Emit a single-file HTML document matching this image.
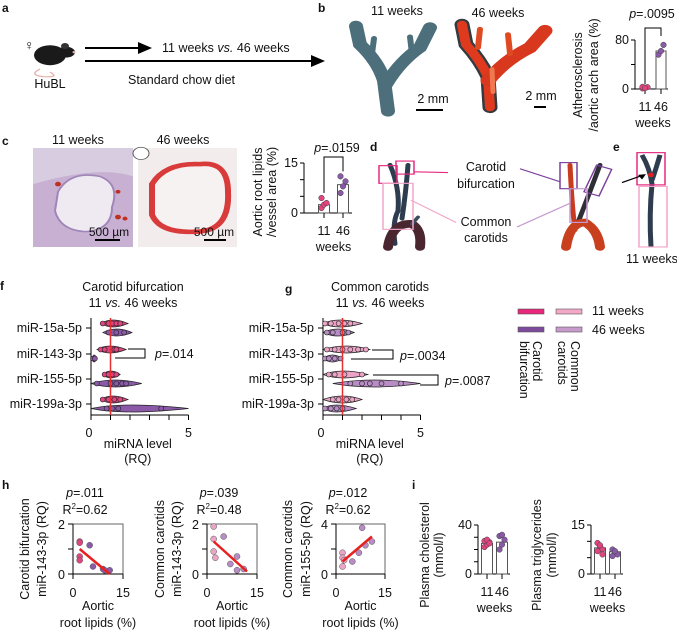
<!DOCTYPE html>
<html><head><meta charset="utf-8"><style>
html,body{margin:0;padding:0;background:#fff}
svg{display:block;font-family:"Liberation Sans",Arial,sans-serif}
text{fill:#111}
</style></head><body>
<svg id="fig" width="677" height="635" viewBox="0 0 677 635" xmlns="http://www.w3.org/2000/svg">
<!-- image-like shapes drawn in a vertically compressed frame -->
<g transform="matrix(1 0 0 0.767 0 0)">
<g>
<path d="M40 90 Q28 98 44 100 Q60 101 50 94" fill="none" stroke="#e8b0a8" stroke-width="1.5"/>
<ellipse cx="50" cy="72" rx="16" ry="13" fill="#1a1a1a"/>
<ellipse cx="66" cy="68" rx="9" ry="7" fill="#1a1a1a"/>
<circle cx="65" cy="60" r="4" fill="#333"/>
<circle cx="74" cy="68" r="1.5" fill="#e8b0a8"/>
</g>
<g fill="none" stroke="#4c6f7b" stroke-linecap="round">
<path d="M388 145 L384 105 Q378 80 360 58 L356 34" stroke-width="14"/>
<path d="M386 110 Q400 80 420 62 L430 36" stroke-width="14"/>
<path d="M372 70 L374 50" stroke-width="6"/>
<path d="M412 70 L410 48" stroke-width="6"/>
</g>
<g fill="none" stroke-linecap="round">
<path d="M490 140 L488 100 Q480 78 466 58 L462 32" stroke="#333b40" stroke-width="15"/>
<path d="M490 140 L488 100 Q480 78 466 58 L462 32" stroke="#e03a1e" stroke-width="10"/>
<path d="M488 105 Q505 78 530 62 L545 40" stroke="#d8381d" stroke-width="15"/>
<path d="M478 62 L480 38" stroke="#e04a22" stroke-width="6"/>
<path d="M510 70 L508 45" stroke="#e04a22" stroke-width="6"/>
<path d="M493 120 L492 90" stroke="#f07850" stroke-width="5"/>
</g>
<g>
<rect x="33" y="193" width="100" height="129" fill="#c7b0d2"/>
<path d="M33 193 L133 193 L133 230 Q100 215 33 240 Z" fill="#d8cce0"/>
<path d="M58 250 Q70 222 100 230 Q120 240 112 270 Q112 300 85 302 Q60 300 55 275 Z" fill="#efeaf2" stroke="#9f86b8" stroke-width="2"/>
<circle cx="58" cy="240" r="3" fill="#c03020"/><circle cx="118" cy="250" r="2.5" fill="#c03020"/><circle cx="118" cy="283" r="3" fill="#c03020"/><circle cx="125" cy="285" r="2.5" fill="#c03020"/>
</g>
<g>
<rect x="138" y="193" width="99" height="129" fill="#f2ecec"/>
<path d="M152 240 Q165 212 200 214 Q228 210 228 250 Q230 300 198 302 Q160 305 152 280 Z" fill="#f7f2f2" stroke="#d93a3a" stroke-width="6"/>
<circle cx="141" cy="200" r="8" fill="#fff" stroke="#555" stroke-width="1"/>
</g>
<g fill="none" stroke-linecap="round">
<path d="M395 318 Q392 290 398 275 Q400 245 390 215" stroke="#2e3c4f" stroke-width="5"/>
<path d="M402 285 Q406 250 408 215" stroke="#2e3c4f" stroke-width="5"/>
<path d="M388 322 Q392 290 412 292 Q422 300 420 322" stroke="#4a2730" stroke-width="10"/>
<path d="M412 292 L418 283" stroke="#3c4e5e" stroke-width="4"/>
</g>
<rect x="379" y="216" width="18" height="23" fill="none" stroke="#e62a82" stroke-width="1.5"/>
<rect x="396" y="210" width="18" height="17" fill="none" stroke="#e62a82" stroke-width="1.5"/>
<rect x="383" y="239" width="30" height="60" fill="none" stroke="#f2a6c8" stroke-width="1.5"/>
<line x1="448" y1="225" x2="414" y2="224" stroke="#e62a82" stroke-width="1.5"/>
<line x1="456" y1="290" x2="411" y2="261" stroke="#f2a6c8" stroke-width="1.5"/>
<line x1="520" y1="220" x2="560" y2="237" stroke="#7b3f9b" stroke-width="1.5"/>
<line x1="517" y1="296" x2="570" y2="265" stroke="#c59ad0" stroke-width="1.5"/>
<g fill="none" stroke-linecap="round">
<path d="M575 300 Q572 270 570 215" stroke="#c83b1e" stroke-width="5"/>
<path d="M578 290 Q590 250 600 215" stroke="#2e2e36" stroke-width="5"/>
<path d="M566 322 Q570 290 585 290 Q598 300 600 322" stroke="#c8401e" stroke-width="10"/>
</g>
<rect x="560" y="212" width="17" height="34" fill="none" stroke="#7b3f9b" stroke-width="1.5"/>
<rect x="590" y="217" width="16" height="37" fill="none" stroke="#7b3f9b" stroke-width="1.5" transform="rotate(20 598 235)"/>
<rect x="570" y="246" width="17" height="44" fill="none" stroke="#c59ad0" stroke-width="1.5"/>
<path d="M651 322 Q649 280 652 240 Q650 220 642 202 M652 235 Q656 220 660 202" fill="none" stroke="#2e3c4f" stroke-width="5"/>
<circle cx="651" cy="228" r="3" fill="#e02020"/>
<rect x="637" y="199" width="28" height="42" fill="none" stroke="#e62a82" stroke-width="1.5"/>
<rect x="639" y="243" width="28" height="79" fill="none" stroke="#f2a6c8" stroke-width="1.5"/>
<line x1="622" y1="238" x2="644" y2="228" stroke="#000" stroke-width="1.5"/>
<polygon points="646,227 638,228 642,234" fill="#000"/>
</g>
<!-- Panel a -->
<g>
<text x="2" y="12" font-size="12" font-weight="bold">a</text>
<text x="24" y="50" font-size="14">♀</text>
<text x="50" y="88" font-size="12.5" text-anchor="middle">HuBL</text>
<line x1="85" y1="48" x2="143" y2="48" stroke="#000" stroke-width="2"/>
<polygon points="152,48 138,42 138,54" fill="#000"/>
<text x="162" y="52" font-size="12.5">11 weeks <tspan font-style="italic">vs.</tspan> 46 weeks</text>
<line x1="85" y1="61" x2="316" y2="61" stroke="#000" stroke-width="2"/>
<polygon points="325,61 311,55 311,67" fill="#000"/>
<text x="128" y="84" font-size="12.5">Standard chow diet</text>
</g>
<!-- Panel b -->
<g>
<text x="318" y="12" font-size="12" font-weight="bold">b</text>
<text x="397" y="15" font-size="12.5" text-anchor="middle">11 weeks</text>
<text x="498" y="17" font-size="12.5" text-anchor="middle">46 weeks</text>
<text x="433" y="103" font-size="12.5" text-anchor="middle">2 mm</text>
<line x1="416" y1="110" x2="443" y2="110" stroke="#000" stroke-width="2"/>
<text x="541" y="100" font-size="12.5" text-anchor="middle">2 mm</text>
<line x1="534" y1="107" x2="546" y2="107" stroke="#000" stroke-width="2"/>
<g id="barB"></g>
</g>
<!-- Panel c -->
<g>
<text x="2" y="145" font-size="12" font-weight="bold">c</text>
<text x="78" y="144" font-size="12.5" text-anchor="middle">11 weeks</text>
<text x="183" y="144" font-size="12.5" text-anchor="middle">46 weeks</text>
<text x="109" y="236" font-size="12" text-anchor="middle">500 µm</text>
<line x1="95" y1="240" x2="120" y2="240" stroke="#000" stroke-width="2"/>
<text x="214" y="236" font-size="12" text-anchor="middle">500 µm</text>
<line x1="204" y1="240" x2="226" y2="240" stroke="#000" stroke-width="2"/>
<g id="barC"></g>
</g>
<!-- Panel d -->
<g>
<text x="370" y="151" font-size="12" font-weight="bold">d</text>
<text x="486" y="171" font-size="12.5" text-anchor="middle">Carotid</text>
<text x="486" y="188" font-size="12.5" text-anchor="middle">bifurcation</text>
<text x="486" y="226" font-size="12.5" text-anchor="middle">Common</text>
<text x="486" y="242" font-size="12.5" text-anchor="middle">carotids</text>
</g>
<!-- Panel e -->
<g>
<text x="613" y="151" font-size="12" font-weight="bold">e</text>
<text x="652" y="263" font-size="12.5" text-anchor="middle">11 weeks</text>
</g>
<!-- Panels f/g -->
<text x="0" y="290" font-size="12" font-weight="bold">f</text>
<text x="133" y="291" font-size="12.5" text-anchor="middle">Carotid bifurcation</text>
<text x="133" y="307" font-size="12.5" text-anchor="middle">11 <tspan font-style="italic">vs.</tspan> 46 weeks</text>
<text x="285" y="293" font-size="12" font-weight="bold">g</text>
<text x="380" y="291" font-size="12.5" text-anchor="middle">Common carotids</text>
<text x="380" y="307" font-size="12.5" text-anchor="middle">11 <tspan font-style="italic">vs.</tspan> 46 weeks</text>
<g id="violinF"></g>
<g id="violinG"></g>
<g>
<rect x="518" y="309" width="26" height="5" fill="#e8267a" stroke="#555" stroke-width="0.6"/>
<rect x="556" y="309" width="26" height="5" fill="#f4a8c8" stroke="#555" stroke-width="0.6"/>
<rect x="518" y="327" width="26" height="5" fill="#7e4a9e" stroke="#555" stroke-width="0.6"/>
<rect x="556" y="327" width="26" height="5" fill="#c79acb" stroke="#555" stroke-width="0.6"/>
<text x="592" y="315" font-size="12.5">11 weeks</text>
<text x="592" y="334" font-size="12.5">46 weeks</text>
<text transform="translate(533,341) rotate(90)" font-size="12.5">Carotid</text>
<text transform="translate(520,341) rotate(90)" font-size="12.5">bifurcation</text>
<text transform="translate(571,341) rotate(90)" font-size="12.5">Common</text>
<text transform="translate(558,341) rotate(90)" font-size="12.5">carotids</text>
</g>
<!-- Panel h -->
<text x="2" y="489" font-size="12" font-weight="bold">h</text>
<g id="scatterH"></g>
<!-- Panel i -->
<text x="412" y="489" font-size="12" font-weight="bold">i</text>
<g id="barI"></g>
</svg>
<script>
// ---- data ----
const barBCategories = ["11", "46"];
const barBMeans = [2, 62];
const barBPoints11 = [1, 2, 3, 3.5, 1.5];
const barBPoints46 = [56, 62, 72];
const barCMeans = [2.5, 8.5];
const barCPoints11 = [1.5, 2.5, 3, 4.5];
const barCPoints46 = [6, 8, 9.5, 11];
const mirnaCategories = ["miR-15a-5p", "miR-143-3p", "miR-155-5p", "miR-199a-3p"];
const fPoints11 = [[0.6,0.9,1.1,1.3,1.5],[0.5,0.7,1.2,1.3],[0.7,0.9,1.1,1.3],[0.6,0.9,1.2,1.5]];
const fPoints46 = [[0.9,1.3,1.7],[0.1,0.2],[0.3,1.0,1.3,1.6,1.8],[0.8,1.1,1.4,3.6]];
const fRange11 = [[0.5,1.9],[0.3,1.8],[0.6,1.5],[0.5,1.9]];
const fRange46 = [[0.6,2.1],[0.05,0.3],[0,2.6],[0,5]];
const gPoints11 = [[0.1,0.4,0.8,1.1,1.4],[0.2,0.6,1.0,1.4,1.8,2.2],[0.3,0.6,1.1,2.0],[0.5,0.8,1.2,1.5]];
const gPoints46 = [[0.2,0.5,1.0,1.3],[0.1,0.3,0.6,0.9],[1.4,2.0,2.4,3.0,4.0],[0.1,0.4,0.7,1.0]];
const gRange11 = [[0,2.0],[0,2.4],[0,2.3],[0,2.0]];
const gRange46 = [[0,1.6],[0,1.0],[0.5,5],[0,1.7]];
const xTicksRQ = [0,1,2,3,4,5];
const h1X = [2,2,2,2,5,6,9,11,9.5];
const h1Y = [1.3,1.25,0.7,0.55,1.15,0.3,0.2,0.15,0.15];
const h1Fit = [[2,1.0],[11,0.0]];
const h2X = [2,2,5,2,2.5,7,9,9,11];
const h2Y = [1.9,1.4,1.5,0.9,0.65,0.4,0.7,0.15,0.2];
const h2Fit = [[2,1.3],[12,0.1]];
const h3X = [2,2,2,2.5,5,7,8,9,11];
const h3Y = [1.7,1.3,0.6,1.1,1.0,1.7,3.7,2.3,2.6];
const h3Fit = [[2,1.0],[11,3.0]];
const cholMeans = [25, 26];
const chol11 = [22,24,26,27,28,25];
const chol46 = [20,24,28,31,32];
const trigMeans = [8, 6.8];
const trig11 = [9.5,8.5,7.5,7,8.8,6];
const trig46 = [7.5,6.8,6,5.5,7];

const NS = "http://www.w3.org/2000/svg";
function mk(parent, tag, attrs, txt) {
  const e = document.createElementNS(NS, tag);
  for (const k in attrs) e.setAttribute(k, attrs[k]);
  if (txt !== undefined) e.textContent = txt;
  parent.appendChild(e);
  return e;
}
const PINK = "#e2447f", PURPLE = "#8a5aa8", LPINK = "#eba4c6", LPURP = "#b88cc4";

function barChart(g, o) {
  const ys = v => o.y0 - (v / o.max) * (o.y0 - o.y1);
  let e = mk(g, "line", {x1:o.ax, y1:o.y1, x2:o.ax, y2:o.y0, stroke:"#000", "stroke-width":1});
  
  
  mk(g, "line", {x1:o.ax, y1:o.y0, x2:o.xEnd, y2:o.y0, stroke:"#000", "stroke-width":1});
  o.ticks.forEach(t => {
    mk(g, "line", {x1:o.ax-4, y1:ys(t), x2:o.ax, y2:ys(t), stroke:"#000"});
  });
  o.tickLabels.forEach(t => {
    const lbl = mk(g, "text", {x:o.ax-6, y:ys(t)+4, "font-size":12.5, "text-anchor":"end"}, String(t));
    
    
  });
  o.means.forEach((m, i) => {
    const cx = o.cx[i];
    const r = mk(g, "rect", {x:cx-o.bw/2, y:ys(m), width:o.bw, height:o.y0-ys(m), fill:"#fff", stroke:"#555", "stroke-width":1});
    
    
    mk(g, "line", {x1:cx, y1:o.y0, x2:cx, y2:o.y0+5, stroke:"#000"});
    o.pts[i].forEach((p, j) => {
      const c = mk(g, "circle", {cx:cx + ((j%3)-1)*2.5, cy:ys(p), r:2.8, fill:o.colors[i], stroke:"#444", "stroke-width":0.5});
      
      
    });
  });
  mk(g, "text", {x:o.cx[0], y:o.y0+22, "font-size":12.5, "text-anchor":"middle"}, barBCategories[0]);
  mk(g, "text", {x:o.cx[1], y:o.y0+22, "font-size":12.5, "text-anchor":"middle"}, barBCategories[1]);
  mk(g, "text", {x:(o.cx[0]+o.cx[1])/2, y:o.y0+38, "font-size":12.5, "text-anchor":"middle"}, "weeks");
  o.titles.forEach((t, k) => {
    mk(g, "text", {transform:`translate(${o.tx[k]},${o.tyc}) rotate(-90)`, "font-size":12.5, "text-anchor":"middle"}, t);
  });
  return ys;
}

(function(){
  const g = document.getElementById("barB");
  const ys = barChart(g, {ax:635, xEnd:668, y0:89, y1:40, max:80, ticks:[0,40,80], tickLabels:[0,80],
    means:barBMeans, pts:[barBPoints11, barBPoints46], cx:[645,661], bw:10, colors:[PINK, PURPLE],
    titles:["Atherosclerosis","/aortic arch area (%)"], tx:[582,598], tyc:75});
  mk(g, "path", {d:`M645 ${ys(8)} L645 28 L661 28 L661 36`, fill:"none", stroke:"#000"});
  const p = mk(g, "text", {x:652, y:18, "font-size":12.5, "text-anchor":"middle"});
  p.innerHTML = '<tspan font-style="italic">p</tspan>=.0095';
})();
(function(){
  const g = document.getElementById("barC");
  const ys = barChart(g, {ax:304, xEnd:352, y0:213, y1:163, max:15, ticks:[0,5,10,15], tickLabels:[0,15],
    means:barCMeans, pts:[barCPoints11, barCPoints46], cx:[324,343], bw:11, colors:[PINK, PURPLE],
    titles:["Aortic root lipids","/vessel area (%)"], tx:[262,276], tyc:192});
  mk(g, "path", {d:`M324 ${ys(6)} L324 157 L343 157 L343 ${ys(12.5)}`, fill:"none", stroke:"#000"});
  const p = mk(g, "text", {x:337, y:152, "font-size":12.5, "text-anchor":"middle"});
  p.innerHTML = '<tspan font-style="italic">p</tspan>=.0159';
})();

const rowY = [328, 354, 379, 404];
function violins(g, o) {
  const xs = v => o.x0 + v * 19.5;
  mk(g, "line", {x1:o.x0, y1:318, x2:o.x0, y2:415, stroke:"#000"});
  mk(g, "line", {x1:o.x0, y1:415, x2:xs(5), y2:415, stroke:"#000"});
  xTicksRQ.forEach(t => mk(g, "line", {x1:xs(t), y1:415, x2:xs(t), y2:420, stroke:"#000"}));
  mk(g, "text", {x:xs(0)-2, y:437, "font-size":12.5, "text-anchor":"middle"}, "0");
  mk(g, "text", {x:xs(5), y:437, "font-size":12.5, "text-anchor":"middle"}, "5");
  mk(g, "text", {x:xs(2.4), y:448, "font-size":12.5, "text-anchor":"middle"}, "miRNA level");
  mk(g, "text", {x:xs(2.4), y:463, "font-size":12.5, "text-anchor":"middle"}, "(RQ)");
  mirnaCategories.forEach((c, i) => {
    const l = mk(g, "text", {x:o.x0-9, y:rowY[i]+4, "font-size":12.5, "text-anchor":"end"}, c);
    
    
    mk(g, "line", {x1:o.x0-5, y1:rowY[i], x2:o.x0, y2:rowY[i], stroke:"#000"});
    [[o.r11, o.p11, o.c11, -4.5], [o.r46, o.p46, o.c46, 4.5]].forEach(([rg, pts, col, dy]) => {
      const y = rowY[i] + dy;
      const a = xs(rg[i][0]), b = xs(rg[i][1]);
      const m = xs(pts[i].reduce((s,v)=>s+v,0)/pts[i].length);
      const v = mk(g, "path", {d:`M${a} ${y} Q${m} ${y-7} ${b} ${y} Q${m} ${y+7} ${a} ${y}Z`, fill:col, stroke:"#222", "stroke-width":0.7});
      
      
      pts[i].forEach(p => {
        const c = mk(g, "circle", {cx:xs(p), cy:y, r:2.5, fill:col, stroke:"#222", "stroke-width":0.6});
        
        
      });
    });
  });
  mk(g, "line", {x1:xs(1), y1:318, x2:xs(1), y2:415, stroke:"#e53030", "stroke-width":1.5});
}
violins(document.getElementById("violinF"), {x0:91, r11:fRange11, r46:fRange46, p11:fPoints11, p46:fPoints46, c11:PINK, c46:PURPLE});
violins(document.getElementById("violinG"), {x0:323, r11:gRange11, r46:gRange46, p11:gPoints11, p46:gPoints46, c11:LPINK, c46:LPURP});
(function(){
  const g = document.getElementById("violinF");
  mk(g, "path", {d:"M115 358 L145 358 L145 349 L128 349", fill:"none", stroke:"#000"});
  const t = mk(g, "text", {x:155, y:358, "font-size":12.5}); t.innerHTML='<tspan font-style="italic">p</tspan>=.014';
  const h = document.getElementById("violinG");
  mk(h, "path", {d:"M351 359 L393 359 L393 350 L372 350", fill:"none", stroke:"#000"});
  const t2 = mk(h, "text", {x:400, y:360, "font-size":12.5}); t2.innerHTML='<tspan font-style="italic">p</tspan>=.0034';
  mk(h, "path", {d:"M373 375 L438 375 L438 385 L420 385", fill:"none", stroke:"#000"});
  const t3 = mk(h, "text", {x:445, y:385, "font-size":12.5}); t3.innerHTML='<tspan font-style="italic">p</tspan>=.0087';
})();

function scatter(g, o) {
  const xs = v => o.x0 + v/15*(o.x1-o.x0);
  const ys = v => 574 - v/o.ymax*50;
  mk(g, "rect", {x:o.x0, y:524, width:o.x1-o.x0, height:50, fill:"none", stroke:"#666", "stroke-width":1});
  mk(g, "line", {x1:o.x0, y1:524, x2:o.x0, y2:574, stroke:"#000"});
  mk(g, "line", {x1:o.x0, y1:574, x2:o.x1, y2:574, stroke:"#000"});
  [0, o.ymax/2, o.ymax].forEach(t => mk(g, "line", {x1:o.x0-5, y1:ys(t), x2:o.x0, y2:ys(t), stroke:"#000"}));
  [0, 15].forEach(t => mk(g, "line", {x1:xs(t), y1:574, x2:xs(t), y2:579, stroke:"#000"}));
  mk(g, "text", {x:o.x0-8, y:ys(o.ymax)+5, "font-size":12.5, "text-anchor":"end"}, String(o.ymax));
  mk(g, "text", {x:o.x0-8, y:ys(0)+5, "font-size":12.5, "text-anchor":"end"}, "0");
  mk(g, "text", {x:xs(0), y:597, "font-size":12.5, "text-anchor":"middle"}, "0");
  mk(g, "text", {x:xs(15), y:597, "font-size":12.5, "text-anchor":"middle"}, "15");
  mk(g, "text", {x:(o.x0+o.x1)/2, y:610, "font-size":12.5, "text-anchor":"middle"}, "Aortic");
  mk(g, "text", {x:(o.x0+o.x1)/2, y:627, "font-size":12.5, "text-anchor":"middle"}, "root lipids (%)");
  const p = mk(g, "text", {x:o.x0+12, y:497, "font-size":12.5, "text-anchor":"middle"}); p.innerHTML = '<tspan font-style="italic">p</tspan>=' + o.p;
  const r = mk(g, "text", {x:o.x0+12, y:514, "font-size":12.5, "text-anchor":"middle"}); r.innerHTML = 'R<tspan font-size="8" dy="-5">2</tspan><tspan dy="5">=' + o.r2 + '</tspan>';
  mk(g, "text", {transform:`translate(${o.tx[0]},549) rotate(-90)`, "font-size":12.5, "text-anchor":"middle"}, o.t1);
  mk(g, "text", {transform:`translate(${o.tx[1]},549) rotate(-90)`, "font-size":12.5, "text-anchor":"middle"}, o.t2);
  o.X.forEach((x, i) => {
    const c = mk(g, "circle", {cx:xs(x), cy:ys(o.Y[i]), r:3, fill: x < 4 ? o.c1 : o.c2, stroke:"#555", "stroke-width":0.5});
    
    
  });
  const ln = mk(g, "line", {x1:xs(o.fit[0][0]), y1:ys(o.fit[0][1]), x2:xs(o.fit[1][0]), y2:ys(o.fit[1][1]), stroke:"#e82020", "stroke-width":2.5});
  
  
}
const gh = document.getElementById("scatterH");
scatter(gh, {x0:73, x1:123, ymax:2, X:h1X, Y:h1Y, fit:h1Fit, p:".011", r2:"0.62", t1:"Carotid bifurcation", t2:"miR-143-3p (RQ)", tx:[29,46], c1:PINK, c2:PURPLE});
scatter(gh, {x0:207, x1:257, ymax:2, X:h2X, Y:h2Y, fit:h2Fit, p:".039", r2:"0.48", t1:"Common carotids", t2:"miR-143-3p (RQ)", tx:[164,181], c1:LPINK, c2:LPURP});
scatter(gh, {x0:336, x1:385, ymax:4, X:h3X, Y:h3Y, fit:h3Fit, p:".012", r2:"0.62", t1:"Common carotids", t2:"miR-155-5p (RQ)", tx:[292,310], c1:LPINK, c2:LPURP});

const gi = document.getElementById("barI");
barChart(gi, {ax:478, xEnd:510, y0:574, y1:525, max:40, ticks:[0,10,20,30,40], tickLabels:[0,40],
  means:cholMeans, pts:[chol11, chol46], cx:[487,502], bw:11, colors:[PINK, PURPLE],
  titles:["Plasma cholesterol","(mmol/l)"], tx:[429,443], tyc:555});
barChart(gi, {ax:591, xEnd:623, y0:574, y1:525, max:15, ticks:[0,5,10,15], tickLabels:[0,15],
  means:trigMeans, pts:[trig11, trig46], cx:[600,615], bw:11, colors:[PINK, PURPLE],
  titles:["Plasma triglycerides","(mmol/l)"], tx:[541,556], tyc:555});
</script>
</body></html>
